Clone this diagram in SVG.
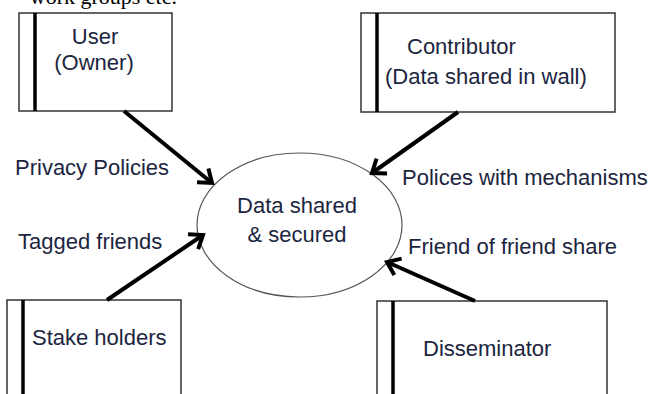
<svg xmlns="http://www.w3.org/2000/svg" width="655" height="394" viewBox="0 0 655 394">
<defs>
<style>
.box{fill:#fff;stroke:#333;stroke-width:1.5}
.bar{stroke:#000;stroke-width:3.5}
.lbl{font-family:"Liberation Sans",Arial,sans-serif;font-size:22px;fill:#1c2540}
.conn{stroke:#000;stroke-width:4;fill:none}
.ell{fill:#fff;stroke:#555;stroke-width:1.2}
</style>
<marker id="chev" markerUnits="userSpaceOnUse" markerWidth="30" markerHeight="30" viewBox="-20 -15 30 30" refX="-2" refY="0" orient="auto" overflow="visible">
<path d="M-14,-9 L-2,0 L-14,9" fill="none" stroke="#000" stroke-width="4" stroke-linejoin="miter"/>
</marker>
</defs>
<rect width="655" height="394" fill="#fff"/>
<text x="177" y="4" text-anchor="end" style="font-family:'Liberation Serif','Times New Roman',serif;font-size:22px;fill:#000">work groups etc.</text>

<g id="user">
<rect class="box" x="19" y="13" width="153" height="98"/>
<line class="bar" x1="35" y1="13" x2="35" y2="111"/>
<text class="lbl" x="95" y="44" text-anchor="middle">User</text>
<text class="lbl" x="94" y="70" text-anchor="middle">(Owner)</text>
</g>

<g id="contributor">
<rect class="box" x="361" y="13" width="254" height="99"/>
<line class="bar" x1="377" y1="13" x2="377" y2="112"/>
<text class="lbl" x="407" y="54">Contributor</text>
<text class="lbl" x="385" y="84">(Data shared in wall)</text>
</g>

<g id="stakeholders">
<rect class="box" x="7" y="300" width="174" height="110"/>
<line class="bar" x1="23" y1="300" x2="23" y2="410"/>
<text class="lbl" x="32" y="345">Stake holders</text>
</g>

<g id="disseminator">
<rect class="box" x="377" y="301" width="230" height="110"/>
<line class="bar" x1="393" y1="301" x2="393" y2="411"/>
<text class="lbl" x="423" y="356">Disseminator</text>
</g>

<g id="data">
<ellipse class="ell" cx="299.5" cy="225" rx="102.5" ry="72"/>
<text class="lbl" x="297" y="213" text-anchor="middle">Data shared</text>
<text class="lbl" x="297" y="242" text-anchor="middle">&amp; secured</text>
</g>

<g id="connectors">
<line class="conn" x1="124" y1="111" x2="212" y2="183" marker-end="url(#chev)"/>
<line class="conn" x1="458" y1="112" x2="372" y2="173" marker-end="url(#chev)"/>
<line class="conn" x1="107" y1="300" x2="203" y2="235" marker-end="url(#chev)"/>
<line class="conn" x1="475" y1="301" x2="387" y2="262" marker-end="url(#chev)"/>
<text class="lbl" x="15" y="175">Privacy Policies</text>
<text class="lbl" x="18" y="249">Tagged friends</text>
<text class="lbl" x="402" y="185">Polices with mechanisms</text>
<text class="lbl" x="408" y="254">Friend of friend share</text>
</g>
</svg>
